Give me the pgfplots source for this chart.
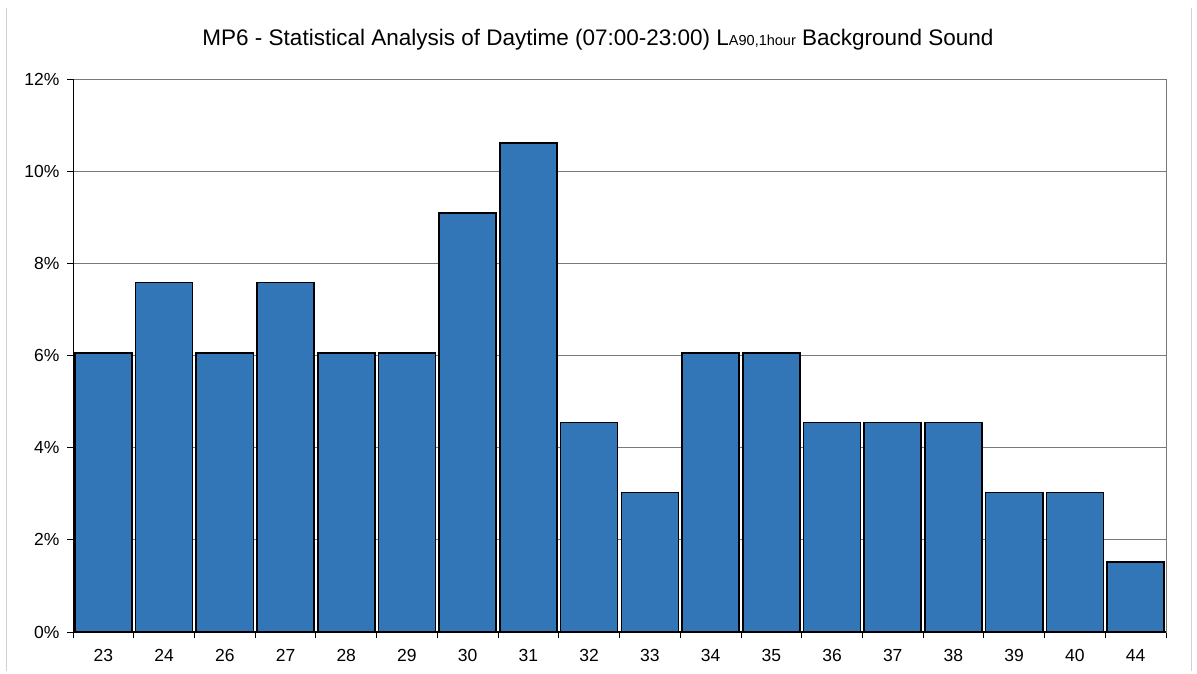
\documentclass[border=0pt]{standalone}
\usepackage{pgfplots}
\pgfplotsset{compat=1.18}
\usepackage{fontspec}
\setmainfont{Liberation Sans}
\definecolor{barblue}{RGB}{51,118,184}
\definecolor{gridgray}{RGB}{120,120,120}
\begin{document}
\begin{tikzpicture}[x=1pt,y=1pt]
\path (0,0) rectangle (1197,673);
\draw[black!18, line width=1pt] (6,2) -- (6,665);
\draw[black!18, line width=1pt] (1191,2) -- (1191,665);
\node[font=\fontsize{22.5}{24}\selectfont, anchor=base] at (598,627) {MP6 - Statistical Analysis of Daytime (07:00-23:00) L{\fontsize{14.5}{16}\selectfont A90,1hour} Background Sound};
\begin{axis}[
  at={(73pt,41pt)}, anchor=south west,
  scale only axis, width=1093pt, height=553pt,
  xmin=-0.5, xmax=17.5, ymin=0, ymax=12,
  ybar, bar width=0.94,
  xtick={0,...,17},
  xticklabels={23,24,26,27,28,29,30,31,32,33,34,35,36,37,38,39,40,44},
  minor xtick={-0.5,0.5,...,17.5},
  ytick={0,2,...,12},
  yticklabel={\pgfmathprintnumber{\tick}\%},
  tick pos=left, tick align=outside,
  major x tick style={draw=none},
  minor tick length=6pt, major tick length=6pt,
  tick style={black, line width=0.8pt},
  ymajorgrids, grid style={gridgray, line width=0.8pt},
  axis line style={gridgray, line width=0.8pt},
  ticklabel style={font=\fontsize{17.5}{19}\selectfont},
  yticklabel style={xshift=-4pt},
  xticklabel style={yshift=-8pt},
  /pgf/number format/assume math mode=true,
]
\addplot[fill=barblue, draw=black, line width=1.6pt] coordinates {
(0,6.06) (1,7.58) (2,6.06) (3,7.58) (4,6.06) (5,6.06) (6,9.09) (7,10.61) (8,4.55)
(9,3.03) (10,6.06) (11,6.06) (12,4.55) (13,4.55) (14,4.55) (15,3.03) (16,3.03) (17,1.52)};
\draw[black, line width=1.6pt] (rel axis cs:0,0) -- (rel axis cs:0,1);
\draw[black, line width=1.6pt] (rel axis cs:0,0) -- (rel axis cs:1,0);
\end{axis}
\end{tikzpicture}
\end{document}
